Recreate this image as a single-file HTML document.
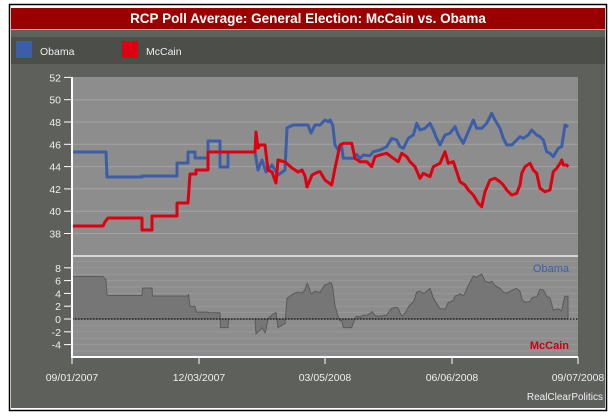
<!DOCTYPE html>
<html><head><meta charset="utf-8"><style>
body{margin:0;background:#fff;width:611px;height:412px;overflow:hidden;font-family:"Liberation Sans",Arial,sans-serif}
</style></head><body>
<svg id="s" width="611" height="412" xmlns="http://www.w3.org/2000/svg" font-family="Liberation Sans, Arial, sans-serif">
<rect x="9.5" y="4.5" width="597" height="406" fill="#fff" stroke="#000" stroke-width="1.5"/>
<rect x="11" y="8" width="594" height="400" fill="#5e605b"/>
<rect x="11" y="8" width="594" height="21" fill="#9b0000"/>
<rect x="11" y="29" width="594" height="1" fill="#d99"/>
<rect x="11" y="37" width="594" height="27" fill="#4b4e49"/>
<text x="308" y="23" fill="#fff" font-size="13.5" font-weight="bold" text-anchor="middle">RCP Poll Average: General Election: McCain vs. Obama</text>
<rect x="16" y="41" width="16" height="17" fill="#3c5ea8"/>
<text x="40" y="55" fill="#eee" font-size="10.5">Obama</text>
<rect x="122" y="41" width="16" height="17" fill="#dd0010"/>
<text x="146" y="55" fill="#eee" font-size="10.5">McCain</text>
<rect x="72" y="77" width="506" height="280" fill="#8e8d8e"/>
<g id="grid" stroke="#a3a3a3" stroke-width="1"></g>
<g id="ax" fill="#eee" font-size="10.5" text-anchor="end"></g>
<path id="area" fill="#767676" stroke="#5a5a5a" stroke-width="1"/>
<line x1="72" y1="319" x2="578" y2="319" stroke="#111" stroke-width="1.2" stroke-dasharray="1.5,1.5"/>
<line x1="72" y1="256" x2="578" y2="256" stroke="#eee" stroke-width="1.5"/>
<polyline id="ob" fill="none" stroke="#3c5ea8" stroke-width="3" stroke-linejoin="round"/>
<polyline id="mc" fill="none" stroke="#dd0010" stroke-width="3" stroke-linejoin="round"/>
<line x1="72" y1="77" x2="72" y2="358" stroke="#fff" stroke-width="2"/>
<line x1="72" y1="357" x2="578" y2="357" stroke="#fff" stroke-width="2"/>
<text x="569" y="272" fill="#3c5ea8" font-size="11" text-anchor="end">Obama</text>
<text x="569" y="349" fill="#cc0010" font-size="11" font-weight="bold" text-anchor="end">McCain</text>
<g fill="#eee" font-size="10.5" text-anchor="middle">
<text x="72" y="381">09/01/2007</text><text x="199" y="381">12/03/2007</text><text x="325" y="381">03/05/2008</text><text x="452" y="381">06/06/2008</text><text x="578" y="381">09/07/2008</text>
</g>
<text x="603" y="400" fill="#eee" font-size="10" text-anchor="end">RealClearPolitics</text>
<g stroke="#fff" stroke-width="1"><line x1="72" y1="357" x2="72" y2="364"/><line x1="199" y1="357" x2="199" y2="364"/><line x1="325" y1="357" x2="325" y2="364"/><line x1="452" y1="357" x2="452" y2="364"/><line x1="578" y1="357" x2="578" y2="364"/></g>
</svg>
<script>
var NS="http://www.w3.org/2000/svg";
function el(t,a,p,txt){var e=document.createElementNS(NS,t);for(var k in a)e.setAttribute(k,a[k]);if(txt)e.textContent=txt;document.getElementById(p).appendChild(e);}
for(var v=52;v>=38;v-=2){var y=122+(48-v)*11.15;if(v<52)el("line",{x1:72,x2:578,y1:y,y2:y},"grid");el("text",{x:61,y:y+4},"ax",""+v);el("line",{x1:64,x2:72,y1:y,y2:y,stroke:"#fff"},"ax");}
for(var v=9;v>=-5;v-=1){var y=319-v*6.4;if(y>257&&y<356)el("line",{x1:72,x2:578,y1:y,y2:y,"stroke-opacity":0.5},"grid");}
for(var v=8;v>=-4;v-=2){var y=319-v*6.4;el("text",{x:61,y:y+4},"ax",""+v);el("line",{x1:64,x2:72,y1:y,y2:y,stroke:"#fff"},"ax");}
var O=[[72,152],[106,152],[107,177],[142,177],[142,176],[177,176],[177,163],[188,163],[188,152],[195,152],[195,158],[208,158],[208,141],[220,141],[220,167],[228,167],[228,152],[255,152],[258,170],[262,160],[266,172],[272,165],[278,175],[285,170],[287,128],[293,125],[308,125],[311,133],[315,125],[319,125]];
var R=[[72,226],[103,226],[105,222],[108,218],[142,218],[142,230],[152,230],[152,216],[177,216],[177,203],[188,203],[190,174],[196,174],[196,170],[208,170],[208,152],[255,152],[256,132],[258,148],[260,145],[265,145],[268,170],[272,172],[276,183],[278,160],[285,162],[292,168],[298,172],[302,170],[305,176],[307,187],[312,175],[318,172]];
var o7=[[0,60],[15,45],[25,50],[30,45],[38,60],[45,120],[55,135],[65,125],[70,160],[100,160],[110,148],[120,160],[130,150],[150,152],[160,140],[180,135],[200,125],[215,100],[230,105],[240,125],[250,130],[265,100],[280,90],[290,55],[300,75],[315,70],[330,55],[340,75],[350,100],[360,120],[375,90],[390,85],[405,65],[415,90],[430,115],[445,80],[460,45],[470,70],[485,70],[500,55],[515,25],[525,45],[540,70],[550,100],[560,120],[575,120],[590,105],[600,95],[610,100],[625,90],[635,75],[650,90],[660,95],[670,105],[680,140],[690,145],[700,155],[715,130],[725,125],[735,60],[745,65]];
var r7=[[0,200],[15,225],[35,240],[45,190],[60,120],[70,115],[95,115],[105,160],[120,170],[140,170],[155,185],[165,155],[180,150],[200,145],[220,160],[235,170],[245,145],[260,155],[270,170],[285,185],[300,220],[310,205],[320,210],[330,215],[340,185],[360,175],[375,140],[385,175],[400,170],[410,200],[420,230],[435,240],[445,255],[460,270],[475,295],[485,305],[495,260],[510,225],[525,220],[540,230],[550,240],[560,255],[575,270],[590,265],[600,240],[605,205],[615,185],[630,175],[640,195],[650,205],[660,250],[675,260],[690,255],[700,200],[710,190],[720,175],[725,165],[730,180],[740,180],[745,185]];
o7.forEach(function(p){O.push([320+p[0]/3,105+p[1]/3]);});
r7.forEach(function(p){R.push([320+p[0]/3,105+p[1]/3]);});
function s(a){return a.map(function(p){return p[0].toFixed(1)+","+p[1].toFixed(1)}).join(" ");}
document.getElementById("ob").setAttribute("points",s(O));
document.getElementById("mc").setAttribute("points",s(R));
function at(a,x){for(var i=1;i<a.length;i++){if(a[i][0]>=x){var p=a[i-1],q=a[i];var t=q[0]==p[0]?1:(x-p[0])/(q[0]-p[0]);return p[1]+t*(q[1]-p[1]);}}return a[a.length-1][1];}
var d="M72,319";for(var x=72;x<=568;x+=0.5){var u=(at(R,x)-at(O,x))/11.15;d+=" L"+x+","+(319-u*6.4).toFixed(1);}d+=" L568,319 Z";
document.getElementById("area").setAttribute("d",d);
</script>
</body></html>
